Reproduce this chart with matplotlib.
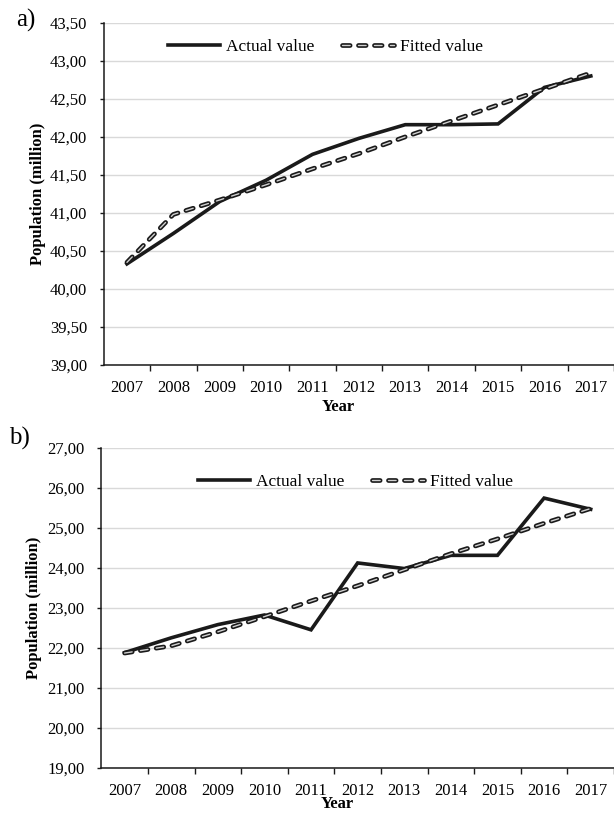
import numpy as np
import matplotlib
matplotlib.use("Agg")
import matplotlib.pyplot as plt
import matplotlib.patheffects as pe
from matplotlib.ticker import FuncFormatter, FixedLocator

plt.rcParams['font.family'] = ['Liberation Serif', 'DejaVu Serif']
plt.rcParams['lines.scale_dashes'] = False

years = ['2007', '2008', '2009', '2010', '2011', '2012', '2013', '2014', '2015', '2016', '2017']

# panel a
actual_a = [40.33, 40.73, 41.15, 41.43, 41.77, 41.98, 42.16, 42.16, 42.17, 42.65, 42.80]
fitted_a = [40.35, 40.98, 41.17, 41.37, 41.58, 41.78, 42.00, 42.21, 42.42, 42.63, 42.84]
yticks_a = [39.0, 39.5, 40.0, 40.5, 41.0, 41.5, 42.0, 42.5, 43.0, 43.5]

# panel b
actual_b = [21.88, 22.25, 22.58, 22.82, 22.45, 24.12, 23.98, 24.31, 24.31, 25.74, 25.46]
fitted_b = [21.87, 22.05, 22.40, 22.78, 23.17, 23.55, 23.95, 24.35, 24.72, 25.11, 25.48]
yticks_b = [19, 20, 21, 22, 23, 24, 25, 26, 27]

comma = FuncFormatter(lambda v, p: f"{v:.2f}".replace('.', ','))


def draw(ax, actual, fitted, yticks, leg_x, leg_y, ylab_x, year_y):
    x = np.arange(len(years))
    ax.plot(x, actual, color='#1a1a1a', lw=2.6, solid_joinstyle='miter',
            label='Actual value', zorder=3)
    ax.plot(x, fitted, color='#d0d0d0', lw=1.0, linestyle=(0, (5.5, 6.0)),
            dash_capstyle='round', label='Fitted value', zorder=4,
            path_effects=[pe.Stroke(linewidth=3.4, foreground='#1a1a1a'), pe.Normal()])
    ax.set_xlim(-0.5, len(years) - 0.5)
    ax.set_ylim(yticks[0], yticks[-1])
    ax.set_yticks(yticks)
    ax.yaxis.set_major_formatter(comma)
    ax.set_xticks(x)
    ax.set_xticklabels(years)
    ax.xaxis.set_minor_locator(FixedLocator(np.arange(0.5, len(years), 1)))
    ax.tick_params(axis='x', which='major', length=0, pad=11, labelsize=12)
    ax.tick_params(axis='x', which='minor', length=4, width=1, direction='out', color='#1a1a1a')
    ax.tick_params(axis='y', length=3, width=1, pad=9, labelsize=12, color='#1a1a1a')
    ax.grid(axis='y', color='#d9d9d9', lw=1)
    ax.set_axisbelow(True)
    for s in ['top', 'right']:
        ax.spines[s].set_visible(False)
    for s in ['left', 'bottom']:
        ax.spines[s].set_color('#1a1a1a')
        ax.spines[s].set_linewidth(1.1)
    ax.set_ylabel('Population (million)', fontweight='bold', fontsize=12)
    ax.yaxis.set_label_coords(ylab_x, 0.5)
    ax.set_xlabel('Year', fontweight='bold', fontsize=12, va='center')
    ax.xaxis.set_label_coords(0.46, year_y)
    ax.legend(loc='center left', bbox_to_anchor=(leg_x, leg_y), ncol=2, frameon=False,
              fontsize=12.5, handlelength=3.0, handletextpad=0.35, columnspacing=1.6,
              borderaxespad=0, borderpad=0)


fig = plt.figure(figsize=(6.14, 8.13), dpi=100)
ax1 = fig.add_axes([0.169, 0.551, 0.831, 0.421])
ax2 = fig.add_axes([0.165, 0.0554, 0.835, 0.394])

draw(ax1, actual_a, fitted_a, yticks_a, 0.125, 0.929, -0.114, -0.123)
draw(ax2, actual_b, fitted_b, yticks_b, 0.188, 0.893, -0.115, -0.112)

fig.text(0.027, 1 - 20 / 813, 'a)', fontsize=18, va='center')
fig.text(0.014, 1 - 438 / 813, 'b)', fontsize=18, va='center')

fig.savefig('out.png', dpi=100)
